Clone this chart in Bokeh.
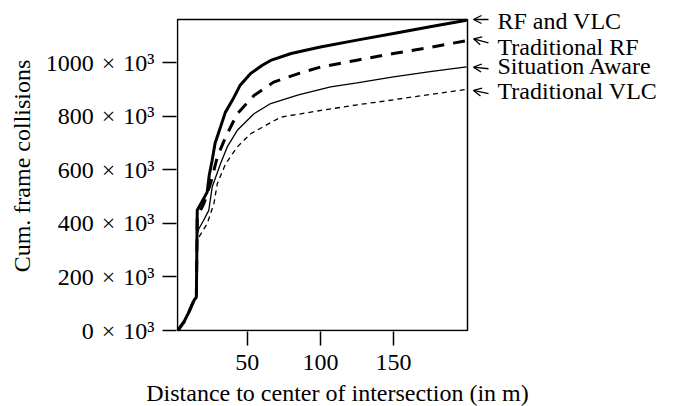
from bokeh.plotting import figure
from bokeh.layouts import row, column
from bokeh.models import Range1d, FixedTicker, Label, Arrow, OpenHead, BoxAnnotation
from bokeh.embed import file_html
from bokeh.resources import INLINE

# Data (cumulative frame collisions in thousands)
rfvlc_x = [2.5, 6.6, 10, 13.5, 15.2, 15.8, 22.6, 24, 26, 28, 31.7, 35, 39.8, 45, 52.3, 60, 66, 80, 100, 125, 150, 175, 200]
rfvlc_y = [0, 31, 68, 112, 125, 449, 517, 580, 636, 700, 760, 815, 860, 915, 960, 990, 1009, 1035, 1059, 1085, 1110, 1135, 1159]

trf_x = [2.5, 6.6, 10, 13.5, 15.2, 15.8, 16.9, 20.3, 24.9, 29.5, 35.2, 43.2, 54.6, 68, 85, 100, 125, 150, 175, 200]
trf_y = [0, 31, 68, 112, 125, 420, 436, 474, 549, 648, 723, 810, 878, 928, 960, 984, 1010, 1035, 1058, 1083]

sa_x = [2.5, 6.6, 10, 13.5, 15.2, 15.8, 16.9, 20, 23.7, 26, 31.7, 36.3, 43.2, 54.6, 66, 85, 107, 125, 150, 175, 200]
sa_y = [0, 31, 68, 112, 125, 360, 380, 410, 449, 536, 623, 686, 748, 810, 848, 880, 910, 925, 948, 967, 985]

tvlc_x = [2.5, 6.6, 10, 13.5, 15.2, 15.8, 16.9, 22.6, 27.2, 29.5, 35.2, 43.2, 52.3, 72.8, 100, 125, 150, 175, 200]
tvlc_y = [0, 31, 68, 112, 125, 330, 349, 399, 474, 548, 623, 686, 735, 797, 822, 843, 862, 882, 901]

series_names = ["RF and VLC", "Traditional RF", "Situation Aware", "Traditional VLC"]
label_y = [1158, 1061, 989, 895]       # label positions (thousands)
arrow_head_y = [1162, 1090, 984, 897]   # where each arrow points
arrow_tail_y = [1162, 1075, 978, 885]

x_ticks = [50, 100, 150]
y_ticks = [0, 200, 400, 600, 800, 1000]
SP = "\u2004"
y_tick_labels = [f"{v}{SP}×{SP}10³" for v in ["0", "200", "400", "600", "800", "1000"]]
x_title = "Distance to center of intersection (in m)"
y_title = "Cum. frame collisions"

FONT = "Liberation Serif"

# axis box limits (data units)
Y0, Y1 = 0, 1162
X0, X1 = 2.3, 200.6

# layout constants (pixels)
W_MAIN, W_SIDE = 470, 203
H_ROW, H_TITLE = 383, 23
BOX_LEFT, BOX_RIGHT, BOX_TOP, BOX_BOTTOM = 177, 467, 19, 330
ux = (X1 - X0) / (BOX_RIGHT - BOX_LEFT)
uy = (Y1 - Y0) / (BOX_BOTTOM - BOX_TOP)
B_LEFT = BOX_LEFT - 1
B_BOTTOM = H_ROW - BOX_BOTTOM - 1
x_rng = Range1d(X0 - 1 * ux, X1 + (W_MAIN - BOX_RIGHT) * ux)
y_rng = Range1d(Y0 - 1 * uy, Y1 + BOX_TOP * uy)


def bare(fig):
    fig.grid.visible = False
    fig.outline_line_color = None
    fig.background_fill_color = "white"
    fig.border_fill_color = "white"
    if fig.title is not None:
        fig.title.visible = False


p = figure(width=W_MAIN, height=H_ROW, output_backend="svg", toolbar_location=None,
           x_range=x_rng, y_range=y_rng,
           min_border_left=B_LEFT, min_border_right=0, min_border_top=0, min_border_bottom=B_BOTTOM)
bare(p)

# the axis box
p.add_layout(BoxAnnotation(left=X0, right=X1, bottom=Y0, top=Y1, fill_alpha=0,
                           line_color="black", line_alpha=1.0, line_width=1.5, level="overlay"))

for ax in (p.xaxis, p.yaxis):
    ax.axis_line_color = None
    ax.major_tick_line_color = "black"
    ax.major_tick_line_width = 1.5
    ax.major_tick_out = 14
    ax.major_tick_in = 0
    ax.minor_tick_line_color = None
    ax.major_label_text_font = FONT
    ax.major_label_text_font_size = "24px"
    ax.major_label_text_color = "black"
    ax.axis_label_text_font = FONT
    ax.axis_label_text_font_size = "24px"
    ax.axis_label_text_font_style = "normal"
    ax.axis_label_text_color = "black"

p.xaxis.ticker = FixedTicker(ticks=x_ticks)
p.yaxis.ticker = FixedTicker(ticks=y_ticks)
p.yaxis.major_label_overrides = {t: l for t, l in zip(y_ticks, y_tick_labels)}
p.xaxis.major_label_standoff = 9
p.yaxis.major_label_standoff = 8
p.yaxis.axis_label = y_title
p.yaxis.axis_label_standoff = 8

p.line(tvlc_x, tvlc_y, line_color="black", line_width=1.3, line_dash="5 4")
p.line(sa_x, sa_y, line_color="black", line_width=1.3)
p.line(trf_x, trf_y, line_color="black", line_width=3, line_dash="12 9")
p.line(rfvlc_x, rfvlc_y, line_color="black", line_width=3)

# Side panel for the line labels (same vertical scale as the main frame)
q = figure(width=W_SIDE, height=H_ROW, output_backend="svg", toolbar_location=None,
           x_range=Range1d(0, W_SIDE), y_range=y_rng,
           x_axis_location=None, y_axis_location=None,
           min_border_left=0, min_border_right=0, min_border_top=0, min_border_bottom=B_BOTTOM)
bare(q)

for name, ly, hy, ty in zip(series_names, label_y, arrow_head_y, arrow_tail_y):
    q.add_layout(Arrow(end=OpenHead(size=8, line_color="black", line_width=1.3),
                       x_start=18, y_start=ty, x_end=3, y_end=hy,
                       line_color="black", line_width=1.3))
    q.add_layout(Label(x=27, y=ly, text=name, text_font=FONT, text_font_size="24px",
                       text_baseline="middle", text_align="left", text_color="black"))

# Bottom strip with the x-axis title
r = figure(width=W_MAIN + W_SIDE, height=H_TITLE, output_backend="svg", toolbar_location=None,
           x_range=Range1d(0, W_MAIN + W_SIDE), y_range=Range1d(0, H_TITLE),
           x_axis_location=None, y_axis_location=None,
           min_border_left=0, min_border_right=0, min_border_top=0, min_border_bottom=0)
bare(r)
r.add_layout(Label(x=337, y=13.5, text=x_title, text_font=FONT, text_font_size="24px",
                   text_baseline="middle", text_align="center", text_color="black"))

layout = column(row(p, q, spacing=0), r, spacing=0)
open("out.html", "w").write(file_html(layout, INLINE))
